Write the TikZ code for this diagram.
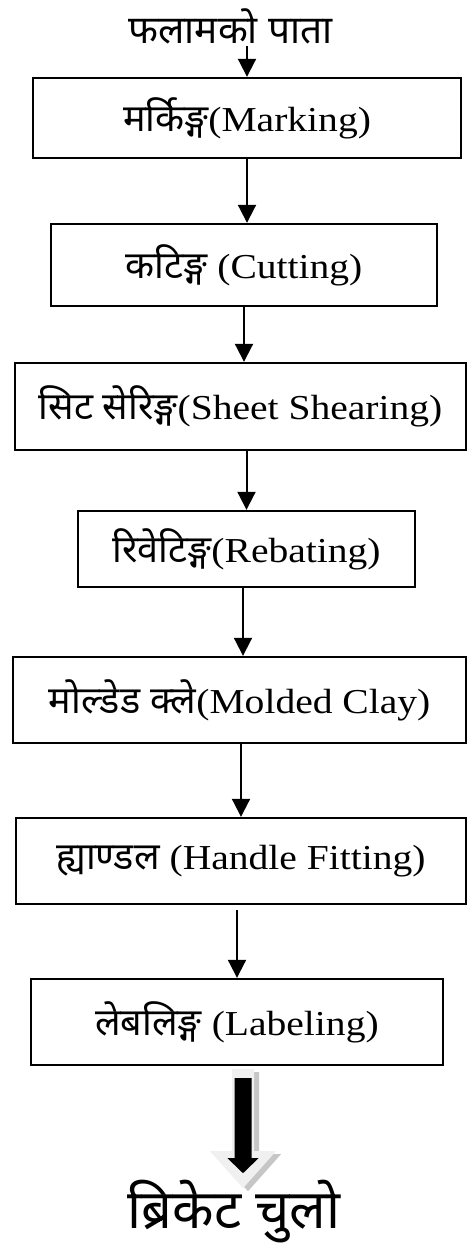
\documentclass[tikz,border=0pt]{standalone}
\usepackage{fontspec}
\setmainfont{Liberation Serif}[FakeStretch=1.13]
\newfontfamily\deva{Noto Sans}[Script=Devanagari, Scale=1.08]
\usetikzlibrary{arrows.meta, positioning, calc}

\newcommand{\dv}[1]{{\deva #1}}

\begin{document}
\begin{tikzpicture}[x=0.5pt, y=-0.5pt]
    \tikzstyle{stage}=[rectangle, draw=black, line width=1.2pt, inner sep=0pt, font=\fontsize{17.5}{21}\selectfont];
    \tikzstyle{flow}=[line width=1pt, -{Triangle[width=9pt, length=9pt]}];

    \useasboundingbox (0, 0) rectangle (467, 1249);

    \node[font=\fontsize{18}{21}\selectfont, inner sep=1pt] (0) at (230.5, 26) {\dv{फलामको पाता}};

    \node[stage, minimum width=214pt, minimum height=40pt] (1) at (247, 118) {\dv{मर्किङ्ग}(Marking)};
    \node[stage, minimum width=193pt, minimum height=41pt] (2) at (244, 265) {\dv{कटिङ्ग} (Cutting)};
    \node[stage, minimum width=225.5pt, minimum height=43.5pt] (3) at (240.5, 406.5) {\dv{सिट सेरिङ्ग}(Sheet Shearing)};
    \node[stage, minimum width=168.5pt, minimum height=38pt] (4) at (246.5, 549) {\dv{रिवेटिङ्ग}(Rebating)};
    \node[stage, minimum width=226.5pt, minimum height=43pt] (5) at (239.5, 700) {\dv{मोल्डेड क्ले}(Molded Clay)};
    \node[stage, minimum width=225pt, minimum height=43pt] (6) at (241, 861) {\dv{ह्याण्डल} (Handle Fitting)};
    \node[stage, minimum width=206pt, minimum height=43pt] (7) at (237, 1022) {\dv{लेबलिङ्ग} (Labeling)};

    \node[font=\fontsize{25}{30}\selectfont\bfseries, inner sep=0pt] (8) at (234, 1212) {\dv{ब्रिकेट चुलो}};

    % arrows between the steps
    \draw[flow] (1.north |- 0.south) -- (1.north);
    \draw[flow] (1.south) -- (1.south |- 2.north);
    \draw[flow] (2.south) -- (2.south |- 3.north);
    \draw[flow] (4.north |- 3.south) -- (4.north);
    \draw[flow] ([xshift=-1.75pt]4.south) -- ([xshift=-1.75pt]4.south |- 5.north);
    \draw[flow] (6.north |- 5.south) -- (6.north);
    \draw[flow, shorten <=2.5pt] (7.north |- 6.south) -- (7.north);

    % block arrow to the product
    \begin{scope}[shift={(7.south)}, xshift=3pt]
        \fill[gray!45] (-6,6) -- (16,6) -- (16,88) -- (38,88) -- (5,125) -- (-28,88) -- (-6,88) -- cycle;
        \fill[gray!12] (-11,3) -- (11,3) -- (11,85) -- (33,85) -- (0,122) -- (-33,85) -- (-11,85) -- cycle;
        \fill[black] (-8.5,12) -- (8.5,12) -- (8.5,92) -- (15.5,92) -- (0,107) -- (-15.5,92) -- (-8.5,92) -- cycle;
    \end{scope}
\end{tikzpicture}
\end{document}
